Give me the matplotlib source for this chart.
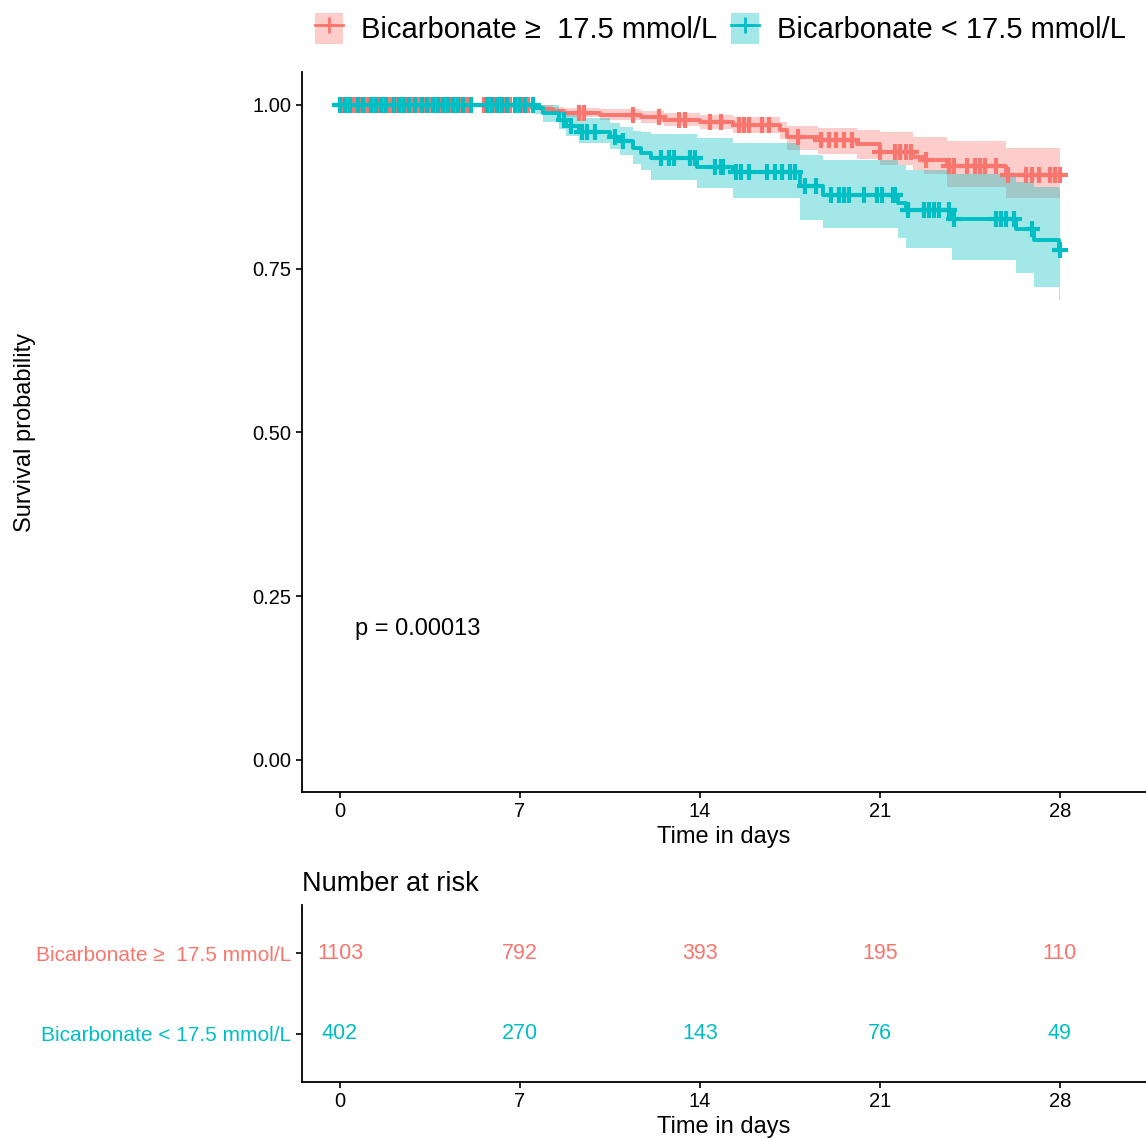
import matplotlib
matplotlib.use("Agg")
import matplotlib.pyplot as plt
from matplotlib.patches import Patch
from matplotlib.lines import Line2D
from matplotlib.legend_handler import HandlerTuple
import numpy as np

plt.rcParams['font.family'] = ['Liberation Sans', 'DejaVu Sans']

RED = '#F8766D'
TEAL = '#00BFC4'

# Bicarbonate >= 17.5 mmol/L : step times, survival, lower / upper CI
hi_time = [0, 7.4, 7.8, 8.3, 8.7, 10.1, 11.7, 12.6, 14.0, 15.3, 17.1, 17.4, 18.6, 20.1, 21.0, 22.3, 22.7, 23.6, 25.9, 28.0]
hi_surv = [1.0, 0.997, 0.994, 0.991, 0.988, 0.985, 0.981, 0.977, 0.974, 0.969, 0.962, 0.951, 0.946, 0.940, 0.928, 0.921, 0.916, 0.906, 0.893, 0.893]
hi_low = [1.0, 0.994, 0.989, 0.985, 0.981, 0.977, 0.972, 0.967, 0.963, 0.957, 0.948, 0.931, 0.925, 0.917, 0.908, 0.901, 0.895, 0.875, 0.858, 0.858]
hi_upp = [1.0, 1.0, 0.999, 0.997, 0.995, 0.993, 0.990, 0.988, 0.985, 0.981, 0.973, 0.967, 0.964, 0.962, 0.959, 0.951, 0.951, 0.944, 0.934, 0.934]
hi_cens = [0.1, 0.3, 0.5, 0.6, 0.8, 1.0, 1.1, 1.3, 1.5, 1.7, 1.9, 2.0, 2.2, 2.4, 2.6, 2.8, 3.0, 3.1,
           3.3, 3.5, 3.7, 3.9, 4.1, 4.3, 4.5, 4.7, 4.9, 5.0, 5.6, 5.8, 6.0, 6.2, 6.4, 6.6, 6.9, 7.1, 7.3,
           9.3, 9.5, 11.4, 12.4, 13.2, 13.4, 14.4, 14.8, 15.5, 15.7, 15.9, 16.4, 16.7, 17.8, 18.7, 19.0,
           19.3, 19.6, 19.9, 21.0, 21.6, 21.8, 22.0, 22.2, 22.8, 23.7, 23.9, 24.4, 24.7, 24.9, 25.1, 25.5,
           26.0, 26.7, 26.9, 27.2, 27.6, 27.8, 28.0]

# Bicarbonate < 17.5 mmol/L
lo_time = [0, 7.6, 7.9, 8.5, 8.8, 9.3, 10.5, 10.9, 11.4, 11.7, 12.1, 13.9, 15.3, 17.9, 18.8, 21.7, 22.0, 23.8, 26.3, 27.0, 27.97, 28.0]
lo_surv = [1.0, 0.995, 0.988, 0.977, 0.967, 0.959, 0.951, 0.944, 0.934, 0.927, 0.919, 0.905, 0.898, 0.876, 0.862, 0.850, 0.840, 0.826, 0.811, 0.794, 0.779, 0.779]
lo_low = [1.0, 0.986, 0.974, 0.963, 0.952, 0.942, 0.932, 0.924, 0.910, 0.900, 0.885, 0.873, 0.858, 0.824, 0.812, 0.797, 0.782, 0.763, 0.743, 0.722, 0.702, 0.702]
lo_upp = [1.0, 1.0, 1.0, 0.992, 0.986, 0.980, 0.972, 0.966, 0.960, 0.958, 0.955, 0.950, 0.942, 0.924, 0.916, 0.908, 0.901, 0.895, 0.882, 0.875, 0.873, 0.873]
lo_cens = [0.0, 0.2, 0.4, 0.7, 0.9, 1.2, 1.4, 1.6, 1.8, 2.1, 2.3, 2.5, 2.7, 2.9, 3.2, 3.4, 3.6, 3.8,
           4.0, 4.2, 4.4, 4.6, 4.8, 5.1, 5.7, 5.9, 6.1, 6.3, 6.5, 6.8, 7.0, 7.2, 7.5,
           8.7, 9.0, 9.4, 9.6, 9.9, 10.7, 11.0, 12.5, 12.8, 13.0, 13.6, 13.8, 14.6, 14.8, 14.9, 15.4,
           15.6, 15.9, 16.6, 16.9, 17.2, 17.5, 17.7, 18.1, 18.5, 19.1, 19.4, 19.6, 19.8, 20.4, 20.9,
           21.1, 21.5, 21.6, 22.1, 22.7, 22.9, 23.1, 23.3, 23.7, 23.9, 25.5, 25.7, 25.9, 26.2, 26.9, 28.0]

risk_times = [0, 7, 14, 21, 28]
risk_hi = [1103, 792, 393, 195, 110]
risk_lo = [402, 270, 143, 76, 49]
labels = ['Bicarbonate \u2265  17.5 mmol/L', 'Bicarbonate < 17.5 mmol/L']

fig = plt.figure(figsize=(11.46, 11.38), dpi=100)
ax = fig.add_axes([302/1146, 346/1138, 844/1146, 720/1138])
ax2 = fig.add_axes([302/1146, 56/1138, 844/1146, 177/1138])

def surv_at(times, surv, t):
    idx = np.searchsorted(times, t, side='right') - 1
    return np.array(surv)[idx]

groups = [(hi_time, hi_surv, hi_low, hi_upp, hi_cens, RED),
          (lo_time, lo_surv, lo_low, lo_upp, lo_cens, TEAL)]
for tm, sv, lw, up, cs, col in groups:
    ax.fill_between(tm, lw, up, step='post', color=col, alpha=0.36, linewidth=0)
for tm, sv, lw, up, cs, col in groups:
    ax.step(tm, sv, where='post', color=col, linewidth=2.8)
    ax.plot(cs, surv_at(tm, sv, cs), linestyle='none', marker='+', color=col,
            markersize=11, markeredgewidth=3)

ax.text(0.6, 0.2, 'p = 0.00013', fontsize=17, ha='left', va='center')

for a in (ax, ax2):
    a.set_xlim(-1.48, 31.35)
    a.set_xticks(risk_times)
    a.spines['top'].set_visible(False)
    a.spines['right'].set_visible(False)
    a.spines['left'].set_linewidth(1.3)
    a.spines['bottom'].set_linewidth(1.3)
    a.tick_params(direction='out', length=4, width=1.2, labelsize=14.5, colors='black')
    a.set_xlabel('Time in days', fontsize=17, labelpad=3)

ax.set_ylim(-0.049, 1.05)
ax.set_yticks([0, 0.25, 0.5, 0.75, 1.0])
ax.set_yticklabels(['0.00', '0.25', '0.50', '0.75', '1.00'])
ax.set_ylabel('Survival probability', fontsize=17)
ax.yaxis.set_label_coords(-0.315, 0.5)

# risk table
ax2.set_ylim(2.6, 0.4)
ax2.set_yticks([1, 2])
ax2.set_yticklabels(labels, fontsize=15)
for tl, col in zip(ax2.get_yticklabels(), [RED, TEAL]):
    tl.set_color(col)
for t, a_, b_ in zip(risk_times, risk_hi, risk_lo):
    ax2.text(t, 1, str(a_), color=RED, fontsize=15.5, ha='center', va='center')
    ax2.text(t, 2, str(b_), color=TEAL, fontsize=15.5, ha='center', va='center')
ax2.set_title('Number at risk', loc='left', fontsize=19.5, pad=10)

# legend
handles = []
for col in (RED, TEAL):
    handles.append((Patch(facecolor=col, alpha=0.36, edgecolor='none'),
                    Line2D([], [], color=col, linewidth=2, marker='+', markersize=11, markeredgewidth=2)))
fig.legend(handles, labels, loc='upper right', bbox_to_anchor=(1.005, 1.012), ncol=2, frameon=False,
           fontsize=21, handler_map={tuple: HandlerTuple(ndivide=1)},
           handlelength=0.95, handleheight=1.3, handletextpad=0.6, columnspacing=0.5)

fig.savefig('out.png', dpi=100)
